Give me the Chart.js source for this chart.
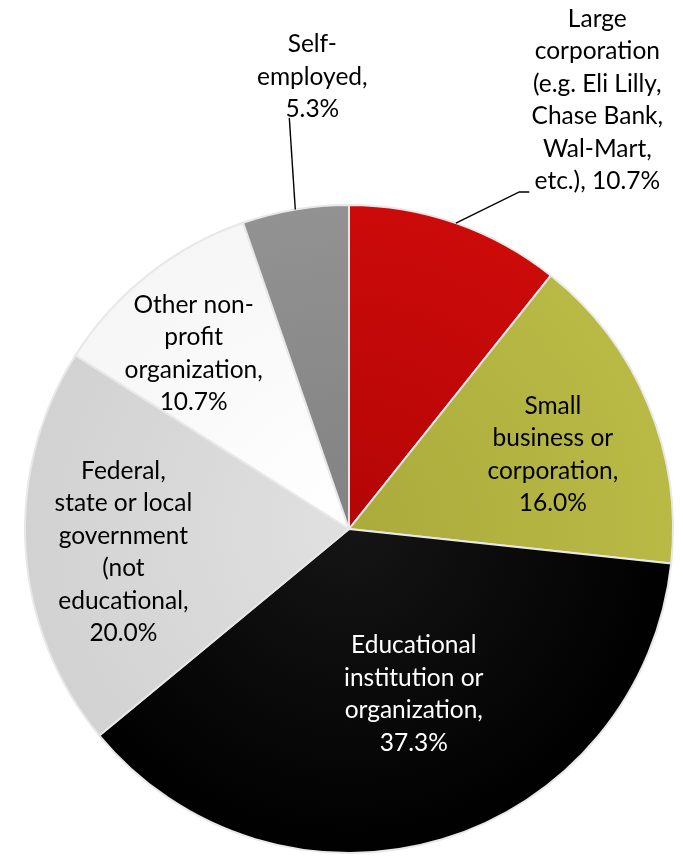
<!DOCTYPE html>
<html>
<head>
<meta charset="utf-8">
<script src="https://cdn.jsdelivr.net/npm/chart.js@4"></script>
<style>
  html, body { margin: 0; padding: 0; background: #fff; }
  canvas { display: block; }
</style>
</head>
<body>
<canvas id="pie" width="683" height="856"></canvas>
<script>
// 데이터 ====================================
const categories = [
  "Large corporation (e.g. Eli Lilly, Chase Bank, Wal-Mart, etc.)",
  "Small business or corporation",
  "Educational institution or organization",
  "Federal, state or local government (not educational",
  "Other non-profit organization",
  "Self-employed",
];
const shares = [10.7, 16.0, 37.3, 20.0, 10.7, 5.3];
// 라벨 줄바꿈 (그림 그대로)
const labelLines = [
  ["Large", "corporation", "(e.g. Eli Lilly,", "Chase Bank,", "Wal-Mart,", "etc.), 10.7%"],
  ["Small", "business or", "corporation,", "16.0%"],
  ["Educational", "institution or", "organization,", "37.3%"],
  ["Federal,", "state or local", "government", "(not", "educational,", "20.0%"],
  ["Other non-", "profit", "organization,", "10.7%"],
  ["Self-", "employed,", "5.3%"],
];

// 스타일 =====================================
// [중심쪽 색, 바깥쪽 색]
const sliceColors = [
  ["#b40505", "#cc0a0a"],
  ["#abab3c", "#b9b946"],
  ["#151515", "#000000"],
  ["#e0e0e0", "#d2d2d2"],
  ["#ffffff", "#f6f6f6"],
  ["#828282", "#929292"],
];
const labelColors = ["#000", "#000", "#fff", "#000", "#000", "#000"];
// 라벨 위치: [각도 보정(도), 반지름 비율]
const labelPlace = [
  [10.8, 1.53],
  [2.6, 0.67],
  [-4.7, 0.547],
  [-2.3, 0.70],
  [-3.2, 0.723],
  [4.9, 1.40],
];
// 바깥 라벨 지시선: 라벨 중심 기준 꺾임점들
const leaders = {
  0: [[-78, 92], [-68, 92]],
  5: [[-23, 41]],
};
const FONT = "24.5px Lato";
const LINE_H = 32.5;

function sliceFill(ctx) {
  const chart = ctx.chart;
  const area = chart.chartArea;
  const c = sliceColors[ctx.dataIndex];
  if (!area) return c[1];
  const cx = (area.left + area.right) / 2;
  const cy = (area.top + area.bottom) / 2;
  const r = Math.min(area.width, area.height) / 2;
  const g = chart.ctx.createRadialGradient(cx, cy, 0, cx, cy, r);
  g.addColorStop(0, c[0]);
  g.addColorStop(1, c[1]);
  return g;
}

// 라벨 플러그인 ==============================
const pieLabels = {
  id: "pieLabels",
  afterDatasetsDraw(chart) {
    const ctx = chart.ctx;
    const meta = chart.getDatasetMeta(0);
    ctx.save();
    ctx.font = FONT;
    ctx.textAlign = "center";
    ctx.textBaseline = "middle";
    meta.data.forEach(function (arc, i) {
      const p = arc.getProps(["x", "y", "startAngle", "endAngle", "outerRadius"], true);
      const mid = (p.startAngle + p.endAngle) / 2;
      const a = mid + (labelPlace[i][0] * Math.PI) / 180;
      const rr = p.outerRadius * labelPlace[i][1];
      const lx = p.x + Math.cos(a) * rr;
      const ly = p.y + Math.sin(a) * rr;

      if (leaders[i]) {
        ctx.strokeStyle = "#000";
        ctx.lineWidth = 1.4;
        ctx.beginPath();
        ctx.moveTo(p.x + Math.cos(mid) * p.outerRadius, p.y + Math.sin(mid) * p.outerRadius);
        leaders[i].forEach(function (pt) {
          ctx.lineTo(lx + pt[0], ly + pt[1]);
        });
        ctx.stroke();
      }

      const lines = labelLines[i];
      ctx.fillStyle = labelColors[i];
      const top = ly - ((lines.length - 1) * LINE_H) / 2;
      lines.forEach(function (t, k) {
        ctx.fillText(t, lx, top + k * LINE_H);
      });
    });
    ctx.restore();
  },
};

// 차트 생성 ==================================
new Chart(document.getElementById("pie").getContext("2d"), {
  type: "pie",
  data: {
    labels: categories,
    datasets: [
      {
        data: shares,
        backgroundColor: sliceFill,
        borderColor: "#e8e8e8",
        borderWidth: 2,
      },
    ],
  },
  options: {
    responsive: false,
    animation: false,
    devicePixelRatio: 1,
    layout: { padding: { top: 204, bottom: 2, left: 24, right: 9 } },
    plugins: {
      legend: { display: false },
      tooltip: { enabled: false },
    },
  },
  plugins: [pieLabels],
});
</script>
</body>
</html>
